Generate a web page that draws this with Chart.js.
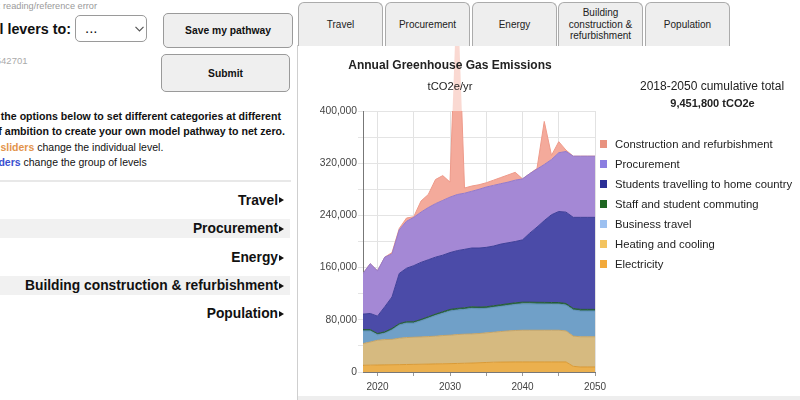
<!DOCTYPE html>
<html>
<head>
<meta charset="utf-8">
<title>Annual Greenhouse Gas Emissions</title>
<script src="https://cdn.jsdelivr.net/npm/chart.js@4"></script>
<style>
  html, body { margin: 0; padding: 0; }
  body { width: 800px; height: 400px; overflow: hidden; position: relative; background: #fff;
         font-family: "Liberation Sans", Arial, sans-serif; color: #111; }
  .abs { position: absolute; white-space: nowrap; }
  .rline { position: absolute; white-space: nowrap; text-align: right; width: 500px; }
  .para { font-size: 10.6px; line-height: 14px; font-weight: bold; }
  .note { font-size: 10.5px; line-height: 14px; }
  .btn { position: absolute; box-sizing: border-box; border: 1.5px solid #9a9a9a; border-radius: 5px;
         background: #efefef; font-weight: bold; font-size: 10.3px; display: flex;
         align-items: center; justify-content: center; color: #111; }
  .band { position: absolute; left: 0; width: 290px; height: 19px; background: #f1f1f1; }
  .sect { position: absolute; white-space: nowrap; text-align: right; width: 500px;
          font-weight: bold; font-size: 13.8px; line-height: 16px; }
  .tri { position: absolute; width: 0; height: 0; border-top: 3.5px solid transparent;
         border-bottom: 3.5px solid transparent; border-left: 5px solid #111; }
  .tab { position: absolute; top: 2px; width: 85px; height: 44px; box-sizing: border-box;
         border: 1.5px solid #ababab; border-bottom: none; border-radius: 6px 6px 0 0;
         background: #eeeeee; display: flex; align-items: center; justify-content: center;
         text-align: center; font-size: 10px; line-height: 11.7px; color: #222; z-index: 3; }
  #panel { position: absolute; left: 297px; top: 45px; width: 503px; height: 355px;
           border-left: 1px solid #cfcfcf; box-sizing: border-box; }
  #chart { position: absolute; left: 300px; top: 46px; }
  .ctext { position: absolute; text-align: center; white-space: nowrap; color: #222; z-index: 2; }
  #legend { position: absolute; left: 600px; top: 138px; z-index: 2; }
  .li { position: relative; height: 20px; font-size: 11.3px; line-height: 12px; color: #222; }
  .li span.sw { position: absolute; left: 0; top: 2px; width: 7px; height: 8px; }
  .li span.tx { position: absolute; left: 15px; top: 0; white-space: nowrap; }
</style>
</head>
<body>

<!-- left side controls -->
<div class="rline" style="left:-403px; top:0; font-size:9.2px; line-height:12px; color:#9a9a9a;">Error: reading/reference error</div>
<div class="rline" style="left:-429px; top:20px; font-size:14.3px; line-height:18px; font-weight:bold;">Set all levers to:</div>
<div class="abs" style="left:75px; top:15px; width:72px; height:27px; box-sizing:border-box; border:1px solid #9a9a9a; border-radius:5px; background:#fff;">
  <span class="abs" style="left:9px; top:4px; font-size:15px; line-height:16px;">...</span>
  <svg class="abs" style="left:59px; top:10px;" width="9" height="6" viewBox="0 0 9 6"><polyline points="0.5,0.8 4.5,4.8 8.5,0.8" fill="none" stroke="#555" stroke-width="1.2"/></svg>
</div>
<div class="btn" style="left:163px; top:13px; width:130px; height:35px;">Save my pathway</div>
<div class="btn" style="left:161px; top:54px; width:129px; height:38px;">Submit</div>
<div class="rline" style="left:-472.5px; top:54.5px; font-size:9.5px; line-height:12px; color:#aaa;">ID 1542701</div>

<div class="rline para" style="left:-219px; top:109px;">Use the options below to set different categories at different</div>
<div class="rline para" style="left:-215px; top:124px;">levels of ambition to create your own model pathway to net zero.</div>
<div class="rline note" style="left:-336.7px; top:139.7px;"><b style="color:#e3944c;">Orange sliders</b> change the individual level.</div>
<div class="rline note" style="left:-353.3px; top:155.3px;"><b style="color:#3a4fd0;">Blue sliders</b> change the group of levels</div>

<div class="abs" style="left:0; top:180px; width:291px; height:2px; background:#e8e8e8;"></div>
<div class="band" style="top:219px;"></div>
<div class="band" style="top:276px;"></div>
<div class="sect" style="left:-222px; top:192.7px;">Travel</div>
<div class="sect" style="left:-222px; top:221.3px;">Procurement</div>
<div class="sect" style="left:-222px; top:250.3px;">Energy</div>
<div class="sect" style="left:-222px; top:278px;">Building construction &amp; refurbishment</div>
<div class="sect" style="left:-222px; top:306px;">Population</div>
<div class="tri" style="left:278.5px; top:197.2px;"></div>
<div class="tri" style="left:278.5px; top:225.8px;"></div>
<div class="tri" style="left:278.5px; top:254.8px;"></div>
<div class="tri" style="left:278.5px; top:282.5px;"></div>
<div class="tri" style="left:278.5px; top:310.5px;"></div>

<!-- tabs -->
<div class="tab" style="left:298px;">Travel</div>
<div class="tab" style="left:385px;">Procurement</div>
<div class="tab" style="left:472px;">Energy</div>
<div class="tab" style="left:558px;">Building<br>construction &amp;<br>refurbishment</div>
<div class="tab" style="left:645px;">Population</div>

<div id="panel"></div>
<div class="abs" style="left:298px; top:396px; width:502px; height:4px; background:#eeeeee; z-index:2;"></div>

<canvas id="chart" width="500" height="354"></canvas>

<div class="ctext" style="left:300px; width:300px; top:58px; font-size:12px; line-height:14px; font-weight:bold;">Annual Greenhouse Gas Emissions</div>
<div class="ctext" style="left:300px; width:300px; top:80px; font-size:11.2px; line-height:13px;">tCO2e/yr</div>
<div class="ctext" style="left:612px; width:200px; top:79px; font-size:12px; line-height:14px;">2018-2050 cumulative total</div>
<div class="ctext" style="left:612.5px; width:200px; top:97px; font-size:11px; line-height:13px; font-weight:bold;">9,451,800 tCO2e</div>
<div id="legend"></div>

<script>
// years on the x axis
const years = [2018, 2019, 2020, 2021, 2022, 2023, 2024, 2025, 2026, 2027, 2028,
               2029, 2030, 2031, 2032, 2033, 2034, 2035, 2036, 2037, 2038, 2039,
               2040, 2041, 2042, 2043, 2044, 2045, 2046, 2047, 2048, 2049, 2050];

// tCO2e per year, per category (stacked, bottom first)
const electricity = [10300, 10500, 10700, 10900, 11100, 11300, 11500, 11700, 11900, 12100, 12400,
                     12600, 12800, 13100, 13400, 13700, 14200, 14600, 15000, 15200, 15300, 15400,
                     15400, 15400, 15400, 15400, 15400, 15400, 15400, 8700, 7700, 7700, 7700];
const heating = [33300, 35500, 38000, 38800, 38900, 40500, 41300, 41600, 41900, 42200, 42500,
                 43300, 43600, 44300, 44600, 44700, 44800, 45400, 46000, 46800, 47700, 48200,
                 48600, 48600, 48600, 48600, 48600, 48600, 47600, 46300, 46300, 46300, 46300];
const businessTravel = [19400, 17000, 8300, 9800, 14500, 20200, 22200, 21700, 24700, 28200, 31600,
                        34100, 37100, 37600, 38000, 39100, 38000, 37500, 38000, 38500, 39000, 39900,
                        40500, 40500, 40300, 40200, 40000, 40000, 39500, 40000, 39500, 39500, 39500];
const staffCommuting = [2000, 2000, 2000, 2000, 2200, 2000, 2000, 2000, 2000, 2100, 2200,
                        2300, 2400, 2400, 2400, 2500, 2500, 2500, 2500, 2500, 2600, 2500,
                        2500, 2500, 2500, 2500, 2500, 2500, 2500, 2400, 2500, 2500, 2500];
const studentsHome = [23700, 24700, 26600, 38500, 48300, 77000, 82000, 86000, 87500, 87400, 87300,
                      86700, 87100, 88600, 89600, 90000, 90500, 91000, 91500, 93000, 93400, 94000,
                      95500, 105800, 115200, 125300, 134500, 139500, 140000, 139600, 141000, 141000, 141000];
const procurement = [62300, 76300, 69400, 76000, 66000, 67000, 72000, 74000, 77000, 80000, 82000,
                     84000, 85000, 86000, 86000, 87000, 90000, 92500, 93000, 92600, 93000, 94000,
                     93500, 91200, 89000, 86000, 84600, 90000, 93000, 93700, 93700, 93700, 93700];
const construction = [0, 0, 0, 0, 2000, 2000, 5000, 1000, 17000, 20000, 37000,
                      38000, 23000, 328000, 8000, 8000, 7000, 6500, 8000, 9400, 11000, 12000,
                      0, 0, 1000, 66000, 6400, 17000, 2000, 0, 0, 0, 0];

const seriesNames = ['Electricity', 'Heating and cooling', 'Business travel',
                     'Staff and student commuting', 'Students travelling to home country',
                     'Procurement', 'Construction and refurbishment'];
const seriesValues = [electricity, heating, businessTravel, staffCommuting,
                      studentsHome, procurement, construction];

// axis ticks
const xTickValues = [2020, 2025, 2030, 2035, 2040, 2045, 2050];
const xLabelValues = [2020, 2030, 2040, 2050];
const yLabelValues = [0, 80000, 160000, 240000, 320000, 400000];

// styles
const fillColors = ['#ebb04e', '#d6ba80', '#70a0c8', '#2f6a46', '#4b4ba8', '#a488d5', '#f4aa9b'];
const lineColors = ['#d99a36', '#c4a468', '#5f8fb8', '#245a38', '#3f3f98', '#9479c8', '#ee9a8a'];
const legendColors = ['#f2a93b', '#f3c35f', '#9cc0f0', '#1f6622', '#2b2f96', '#8b7ee0', '#e8927f'];

// legend (top item = top of stack)
const legendEl = document.getElementById('legend');
for (let i = seriesNames.length - 1; i >= 0; i--) {
    const row = document.createElement('div');
    row.className = 'li';
    row.innerHTML = '<span class="sw" style="background:' + legendColors[i] + '"></span>' +
                    '<span class="tx">' + seriesNames[i] + '</span>';
    legendEl.appendChild(row);
}

// pale part of the spike that goes past the top of the plot
const spillPlugin = {
    id: 'spill',
    afterDatasetsDraw(chart) {
        const topPts = chart.getDatasetMeta(6).data;
        const lowPts = chart.getDatasetMeta(5).data;
        const a = chart.chartArea;
        const ctx = chart.ctx;
        ctx.save();
        ctx.beginPath();
        ctx.rect(a.left, 0, a.right - a.left, a.top);
        ctx.clip();
        ctx.globalAlpha = 0.45;
        ctx.fillStyle = fillColors[6];
        ctx.beginPath();
        topPts.forEach((p, i) => i ? ctx.lineTo(p.x, p.y) : ctx.moveTo(p.x, p.y));
        for (let i = lowPts.length - 1; i >= 0; i--) ctx.lineTo(lowPts[i].x, lowPts[i].y);
        ctx.closePath();
        ctx.fill();
        ctx.restore();
    }
};

Chart.defaults.font.family = '"Liberation Sans", Arial, sans-serif';

const datasets = seriesValues.map((vals, i) => ({
    label: seriesNames[i],
    data: years.map((yr, j) => ({ x: yr, y: vals[j] })),
    backgroundColor: fillColors[i],
    borderColor: lineColors[i],
    borderWidth: 1,
    fill: i === 0 ? 'origin' : '-1',
    pointRadius: 0,
    tension: 0
}));

new Chart(document.getElementById('chart'), {
    type: 'line',
    data: { datasets },
    options: {
        responsive: false,
        animation: false,
        layout: { padding: { top: 65, right: 205, left: 0, bottom: 0 } },
        plugins: { legend: { display: false }, tooltip: { enabled: false } },
        scales: {
            x: {
                type: 'linear', min: 2018, max: 2050,
                afterBuildTicks: s => { s.ticks = xTickValues.map(v => ({ value: v })); },
                afterFit: s => { s.height = 28; },
                ticks: {
                    autoSkip: false, maxRotation: 0, padding: 5, color: '#444',
                    font: { size: 10 },
                    callback: v => xLabelValues.includes(v) ? String(v) : ''
                },
                grid: { color: '#e2e2e2', tickLength: 4, tickColor: '#999' },
                border: { color: '#777' }
            },
            y: {
                stacked: true, min: 0, max: 400000,
                afterFit: s => { s.width = 63; },
                ticks: {
                    stepSize: 20000, padding: 1, color: '#444', font: { size: 10.3 },
                    callback: v => yLabelValues.includes(v) ? v.toLocaleString('en-US') : ''
                },
                grid: { color: '#e4e4e4', tickLength: 5 },
                border: { color: '#777' }
            }
        }
    },
    plugins: [spillPlugin]
});
</script>
</body>
</html>
